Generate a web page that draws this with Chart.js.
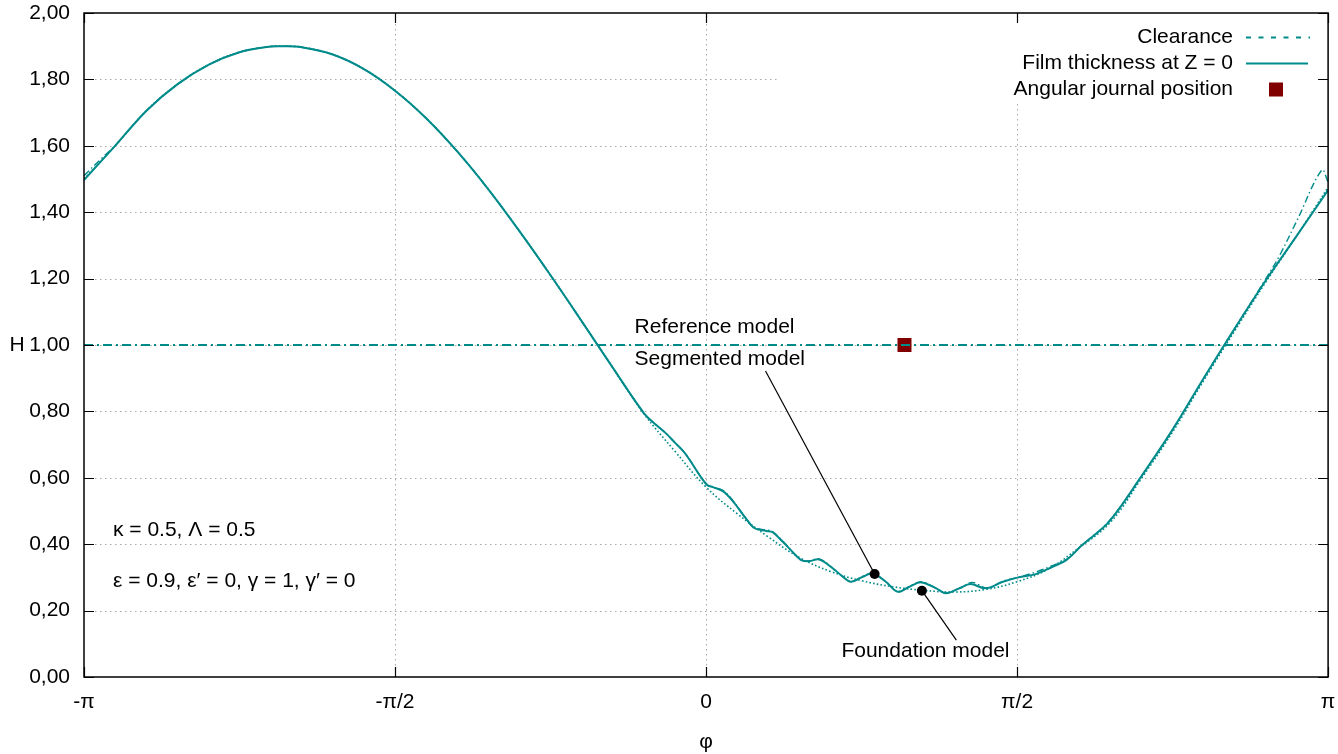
<!DOCTYPE html>
<html><head><meta charset="utf-8">
<script src="https://cdn.jsdelivr.net/npm/chart.js@4/dist/chart.umd.min.js"></script>
<style>html,body{margin:0;padding:0;background:#fff}#wrap{width:1338px;height:754px;position:relative}</style>
</head><body><div id="wrap"><canvas id="c" width="1338" height="754"></canvas></div>
<script>
// x values are in units of pi (phi / pi)
const xTickLabels = ['-π', '-π/2', '0', 'π/2', 'π'];
const legendLabels = ['Clearance', 'Film thickness at Z = 0', 'Angular journal position'];

const refPhi = [-1,-0.95,-0.9,-0.85,-0.8,-0.75,-0.7,-0.68,-0.65,-0.6,-0.55,-0.5,-0.45,-0.4,-0.35,-0.3,-0.25,-0.2,-0.15,-0.1,-0.05,0,0.05,0.1,0.15,0.2,0.25,0.3,0.35,0.4,0.45,0.5,0.55,0.6,0.65,0.7,0.75,0.8,0.85,0.9,0.95,1];
const refH   = [1.50,1.60,1.705,1.785,1.844,1.882,1.899,1.90,1.897,1.875,1.831,1.766,1.683,1.583,1.469,1.343,1.21,1.072,0.932,0.793,0.68,0.572,0.492,0.422,0.36,0.318,0.29,0.272,0.261,0.256,0.264,0.287,0.325,0.39,0.466,0.598,0.738,0.893,1.043,1.19,1.33,1.475];

const segPhi = [-1,-0.95,-0.9,-0.85,-0.8,-0.75,-0.7,-0.68,-0.65,-0.6,-0.55,-0.5,-0.45,-0.4,-0.35,-0.3,-0.25,-0.2,-0.15,-0.1,-0.08,-0.064,-0.05,-0.037,-0.027,-0.01,0.002,0.011,0.027,0.043,0.064,0.078,0.097,0.107,0.123,0.139,0.153,0.166,0.182,0.204,0.22,0.233,0.252,0.268,0.289,0.308,0.327,0.346,0.37,0.386,0.407,0.425,0.45,0.476,0.502,0.53,0.557,0.579,0.605,0.648,0.7,0.75,0.8,0.85,0.9,0.95,1];
const segH   = [1.497,1.60,1.705,1.785,1.844,1.882,1.899,1.90,1.897,1.875,1.831,1.766,1.683,1.583,1.469,1.343,1.21,1.072,0.932,0.795,0.759,0.733,0.706,0.681,0.656,0.607,0.578,0.572,0.56,0.53,0.478,0.448,0.44,0.436,0.408,0.377,0.352,0.349,0.354,0.327,0.302,0.287,0.302,0.312,0.287,0.257,0.272,0.285,0.267,0.252,0.267,0.28,0.267,0.286,0.30,0.31,0.332,0.352,0.398,0.468,0.605,0.745,0.90,1.05,1.195,1.33,1.467];

const fndPhi = [-1,-0.97,-0.95,-0.9,-0.85,-0.8,-0.75,-0.7,-0.68,-0.65,-0.6,-0.55,-0.5,-0.45,-0.4,-0.35,-0.3,-0.25,-0.2,-0.15,-0.1,-0.08,-0.064,-0.05,-0.037,-0.027,-0.01,0.002,0.011,0.027,0.043,0.064,0.078,0.097,0.107,0.123,0.139,0.153,0.166,0.182,0.204,0.22,0.233,0.252,0.268,0.289,0.308,0.327,0.346,0.37,0.386,0.41,0.428,0.452,0.48,0.505,0.533,0.56,0.58,0.605,0.648,0.7,0.75,0.8,0.85,0.9,0.921,0.95,0.99,1];
const fndH   = [1.51,1.565,1.60,1.705,1.785,1.844,1.882,1.899,1.90,1.897,1.875,1.831,1.766,1.683,1.583,1.469,1.343,1.21,1.072,0.932,0.795,0.759,0.733,0.706,0.681,0.656,0.607,0.578,0.572,0.562,0.532,0.478,0.45,0.443,0.438,0.41,0.377,0.352,0.35,0.356,0.327,0.302,0.287,0.303,0.313,0.287,0.257,0.273,0.287,0.267,0.253,0.27,0.285,0.268,0.29,0.302,0.318,0.338,0.355,0.398,0.47,0.605,0.745,0.90,1.05,1.20,1.266,1.375,1.527,1.49];

const clearPhi = [-1, 1];
const clearH   = [1, 1];
const journalPhi = [0.319];
const journalH   = [1.0];
const markPhi = [0.271, 0.347];   // segmented model point, foundation model point
const markH   = [0.31, 0.26];

const annotTexts = ['Reference model', 'Segmented model', 'Foundation model', 'κ = 0.5, Λ = 0.5', 'ε = 0.9, ε′ = 0, γ = 1, γ′ = 0'];

const TEAL = '#008b8b';
const FAMILY = '"Liberation Sans", Arial, sans-serif';
const FONT = '21px ' + FAMILY;
const pts = (xs, ys) => xs.map((x, i) => ({x, y: ys[i]}));

const gnuPlugin = {
  id: 'gnu',
  beforeDatasetsDraw(chart) {
    const {ctx, chartArea: a, scales: {x, y}} = chart;
    ctx.save();
    ctx.strokeStyle = '#a8a8a8';
    ctx.lineWidth = 1;
    ctx.setLineDash([1.5, 3.5]);
    y.ticks.forEach(t => {
      if (t.value <= 0.001 || t.value >= 1.999) return;
      const py = Math.round(y.getPixelForValue(t.value)) + 0.5;
      ctx.beginPath(); ctx.moveTo(a.left + 11, py); ctx.lineTo(a.right - 11, py); ctx.stroke();
    });
    x.ticks.forEach(t => {
      if (t.value <= -0.999 || t.value >= 0.999) return;
      const px = Math.round(x.getPixelForValue(t.value)) + 0.5;
      ctx.beginPath(); ctx.moveTo(px, a.top + 11); ctx.lineTo(px, a.bottom - 11); ctx.stroke();
    });
    ctx.restore();
  },
  afterDatasetsDraw(chart) {
    const {ctx, chartArea: a, scales: {x, y}} = chart;
    ctx.save();
    // opaque legend box
    ctx.fillStyle = '#fff';
    ctx.fillRect(780, a.top + 1, a.right - 781, 88);
    ctx.font = FONT;
    ctx.fillStyle = '#000';
    ctx.textAlign = 'right';
    ctx.textBaseline = 'middle';
    const rows = [37.5, 63.5, 89.5];
    legendLabels.forEach((l, i) => ctx.fillText(l, 1233, rows[i]));
    ctx.strokeStyle = TEAL;
    ctx.lineWidth = 1.8;
    ctx.setLineDash([5, 7.5]);
    ctx.beginPath(); ctx.moveTo(1246, rows[0]); ctx.lineTo(1310, rows[0]); ctx.stroke();
    ctx.setLineDash([]);
    ctx.lineWidth = 2;
    ctx.beginPath(); ctx.moveTo(1246, rows[1]); ctx.lineTo(1308, rows[1]); ctx.stroke();
    ctx.fillStyle = '#800000';
    ctx.fillRect(1269, rows[2] - 7, 14, 14);

    // border
    ctx.strokeStyle = '#000';
    ctx.lineWidth = 1.5;
    ctx.strokeRect(a.left, a.top, a.right - a.left, a.bottom - a.top);
    // inward ticks (mirrored)
    ctx.lineWidth = 1.2;
    const TL = 10;
    y.ticks.forEach(t => {
      const py = Math.round(y.getPixelForValue(t.value)) + 0.5;
      ctx.beginPath();
      ctx.moveTo(a.left, py); ctx.lineTo(a.left + TL, py);
      ctx.moveTo(a.right, py); ctx.lineTo(a.right - TL, py);
      ctx.stroke();
    });
    x.ticks.forEach(t => {
      const px = Math.round(x.getPixelForValue(t.value)) + 0.5;
      ctx.beginPath();
      ctx.moveTo(px, a.bottom); ctx.lineTo(px, a.bottom - TL);
      ctx.moveTo(px, a.top); ctx.lineTo(px, a.top + TL);
      ctx.stroke();
    });

    // axis titles
    ctx.fillStyle = '#000';
    ctx.font = FONT;
    ctx.textAlign = 'center';
    ctx.textBaseline = 'middle';
    ctx.fillText('φ', x.getPixelForValue(0), 742);
    ctx.fillText('H', 17, y.getPixelForValue(1));

    // annotations
    ctx.textAlign = 'left';
    const tp = (u, h) => [x.getPixelForValue(u), y.getPixelForValue(h)];
    let p;
    p = tp(-0.1149, 1.054); ctx.fillText(annotTexts[0], p[0], p[1]);
    p = tp(-0.1149, 0.958); ctx.fillText(annotTexts[1], p[0], p[1]);
    p = tp(0.2176, 0.078); ctx.fillText(annotTexts[2], p[0], p[1]);
    p = tp(-0.9534, 0.443); ctx.fillText(annotTexts[3], p[0], p[1]);
    p = tp(-0.9534, 0.289); ctx.fillText(annotTexts[4], p[0], p[1]);
    // leader lines
    ctx.strokeStyle = '#000';
    ctx.lineWidth = 1.2;
    const m0 = tp(markPhi[0], markH[0]);
    const s0 = tp(0.0956, 0.9217);
    ctx.beginPath(); ctx.moveTo(s0[0], s0[1]); ctx.lineTo(m0[0], m0[1]); ctx.stroke();
    const m1 = tp(markPhi[1], markH[1]);
    const s1 = tp(0.4024, 0.111);
    ctx.beginPath(); ctx.moveTo(m1[0], m1[1]); ctx.lineTo(s1[0], s1[1]); ctx.stroke();
    // dots
    ctx.fillStyle = '#000';
    [m0, m1].forEach(m => { ctx.beginPath(); ctx.arc(m[0], m[1], 5, 0, Math.PI * 2); ctx.fill(); });
    ctx.restore();
  }
};

new Chart(document.getElementById('c'), {
  type: 'scatter',
  data: {
    datasets: [
      {label: 'Reference model', data: pts(refPhi, refH), showLine: true, borderColor: TEAL, borderWidth: 1.6, borderDash: [1.6, 2.2], pointRadius: 0, tension: 0.4},
      {label: 'Foundation model', data: pts(fndPhi, fndH), showLine: true, borderColor: TEAL, borderWidth: 1.4, borderDash: [7, 3, 1.5, 3], pointRadius: 0, tension: 0.35},
      {label: 'Segmented model', data: pts(segPhi, segH), showLine: true, borderColor: TEAL, borderWidth: 2, pointRadius: 0, tension: 0.35},
      {label: legendLabels[0], data: pts(clearPhi, clearH), showLine: true, borderColor: TEAL, borderWidth: 1.8, borderDash: [9, 4, 2, 4], pointRadius: 0},
      {label: legendLabels[2], data: pts(journalPhi, journalH), showLine: false, pointStyle: 'rect', pointRadius: 9.9, backgroundColor: '#800000', borderColor: '#800000', borderWidth: 0}
    ]
  },
  options: {
    responsive: false,
    animation: false,
    devicePixelRatio: 1,
    layout: {padding: {left: 0, right: 9, top: 13, bottom: 0}},
    plugins: {legend: {display: false}, tooltip: {enabled: false}},
    scales: {
      x: {
        type: 'linear', min: -1, max: 1,
        afterFit: s => { s.height = 77; s.paddingLeft = 0; s.paddingRight = 0; },
        grid: {display: false, drawTicks: false},
        border: {display: false},
        ticks: {stepSize: 0.5, autoSkip: false, maxRotation: 0, padding: 13, color: '#000',
          font: {family: FAMILY, size: 21},
          callback: v => { const i = Math.round((v + 1) * 2); return xTickLabels[i]; }}
      },
      y: {
        type: 'linear', min: 0, max: 2,
        afterFit: s => { s.width = 84; s.paddingTop = 0; s.paddingBottom = 0; },
        grid: {display: false, drawTicks: false},
        border: {display: false},
        ticks: {stepSize: 0.2, padding: 14, color: '#000',
          font: {family: FAMILY, size: 21},
          callback: v => v.toFixed(2).replace('.', ',')}
      }
    }
  },
  plugins: [gnuPlugin]
});
</script></body></html>
